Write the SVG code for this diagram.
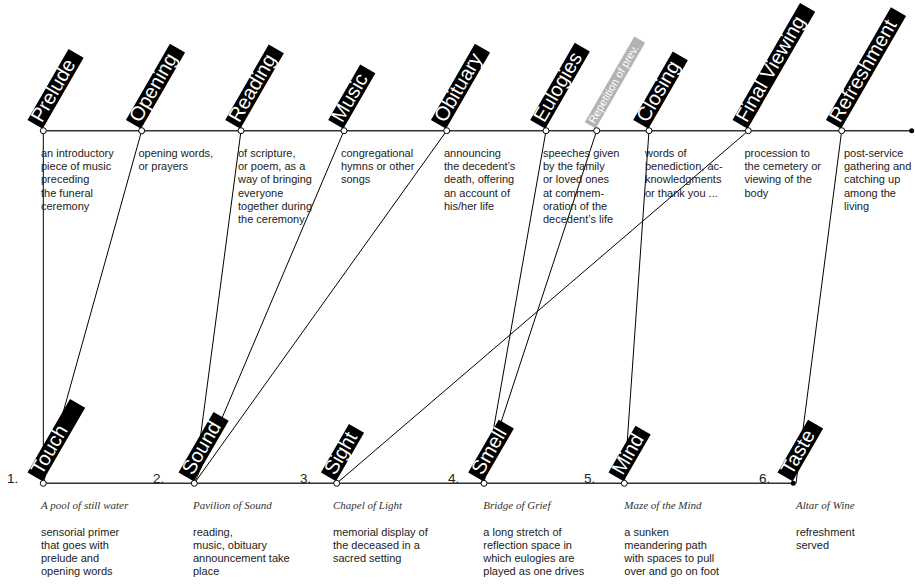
<svg xmlns="http://www.w3.org/2000/svg" width="915" height="584" viewBox="0 0 915 584">
<style>
.lbl rect{fill:#000}
.lbl text{fill:#fff;font-family:"Liberation Sans",Arial,sans-serif;font-size:20px}
.rep rect{fill:#b3b3b3}
.rep text{fill:#fff;font-family:"Liberation Sans",Arial,sans-serif;font-size:11px}
.desc{font-family:"Liberation Sans",Arial,sans-serif;font-size:11px;fill:#222}
.ttl{font-family:"Liberation Serif","Times New Roman",serif;font-style:italic;font-size:11px;fill:#333}
.num{font-family:"Liberation Sans",Arial,sans-serif;font-size:13.5px;fill:#222}
.axis{stroke:#333;stroke-width:1.5;fill:none}
.conn line{stroke:#000;stroke-width:1}
.dot{fill:#fff;stroke:#000;stroke-width:1}
.fdot{fill:#000}
</style>
<g id="timeline">
<line class="axis" x1="43.3" y1="130.7" x2="911.7" y2="130.7"/>
<line class="axis" x1="43.3" y1="483.3" x2="793.3" y2="483.3"/>
<circle class="fdot" cx="911.7" cy="130.7" r="2.5"/>
</g>
<g id="connectors" class="conn">
<line x1="43.3" y1="130.7" x2="43.3" y2="483.3"/>
<line x1="141.7" y1="130.7" x2="43.3" y2="483.3"/>
<line x1="241" y1="130.7" x2="194.3" y2="483.3"/>
<line x1="344" y1="130.7" x2="194.3" y2="483.3"/>
<line x1="446.7" y1="130.7" x2="194.3" y2="483.3"/>
<line x1="546" y1="130.7" x2="484" y2="483.3"/>
<line x1="596.7" y1="130.7" x2="481" y2="483.3"/>
<line x1="649" y1="130.7" x2="624.3" y2="483.3"/>
<line x1="748.3" y1="130.7" x2="336.7" y2="483.3"/>
<line x1="841.7" y1="130.7" x2="796" y2="483.3"/>
</g>
<g id="prelude">
<g class="lbl" transform="translate(41.8,128.2) rotate(-60)"><rect x="0" y="-16.5" width="82" height="17.5"/><text x="4" y="-2.5">Prelude</text></g>
<circle class="dot" cx="43.3" cy="130.7" r="3"/>
<text class="desc" x="41" y="157"><tspan x="41">an introductory</tspan><tspan x="41" dy="13.2">piece of music</tspan><tspan x="41" dy="13.2">preceding</tspan><tspan x="41" dy="13.2">the funeral</tspan><tspan x="41" dy="13.2">ceremony</tspan></text>
</g>
<g id="opening">
<g class="lbl" transform="translate(140.2,128.2) rotate(-60)"><rect x="0" y="-16.5" width="88" height="17.5"/><text x="4" y="-2.5">Opening</text></g>
<circle class="dot" cx="141.7" cy="130.7" r="3"/>
<text class="desc" x="138.5" y="157"><tspan x="138.5">opening words,</tspan><tspan x="138.5" dy="13.2">or prayers</tspan></text>
</g>
<g id="reading">
<g class="lbl" transform="translate(239.5,128.2) rotate(-60)"><rect x="0" y="-16.5" width="87" height="17.5"/><text x="4" y="-2.5">Reading</text></g>
<circle class="dot" cx="241" cy="130.7" r="3"/>
<text class="desc" x="238" y="157"><tspan x="238">of scripture,</tspan><tspan x="238" dy="13.2">or poem, as a</tspan><tspan x="238" dy="13.2">way of bringing</tspan><tspan x="238" dy="13.2">everyone</tspan><tspan x="238" dy="13.2">together during</tspan><tspan x="238" dy="13.2">the ceremony</tspan></text>
</g>
<g id="music">
<g class="lbl" transform="translate(342.5,128.2) rotate(-60)"><rect x="0" y="-16.5" width="64" height="17.5"/><text x="4" y="-2.5">Music</text></g>
<circle class="dot" cx="344" cy="130.7" r="3"/>
<text class="desc" x="341" y="157"><tspan x="341">congregational</tspan><tspan x="341" dy="13.2">hymns or other</tspan><tspan x="341" dy="13.2">songs</tspan></text>
</g>
<g id="obituary">
<g class="lbl" transform="translate(445.2,128.2) rotate(-60)"><rect x="0" y="-16.5" width="88" height="17.5"/><text x="4" y="-2.5">Obituary</text></g>
<circle class="dot" cx="446.7" cy="130.7" r="3"/>
<text class="desc" x="444" y="157"><tspan x="444">announcing</tspan><tspan x="444" dy="13.2">the decedent’s</tspan><tspan x="444" dy="13.2">death, offering</tspan><tspan x="444" dy="13.2">an account of</tspan><tspan x="444" dy="13.2">his/her life</tspan></text>
</g>
<g id="eulogies">
<g class="lbl" transform="translate(544.5,128.2) rotate(-60)"><rect x="0" y="-16.5" width="89" height="17.5"/><text x="4" y="-2.5">Eulogies</text></g>
<circle class="dot" cx="546" cy="130.7" r="3"/>
<text class="desc" x="543" y="157"><tspan x="543">speeches given</tspan><tspan x="543" dy="13.2">by the family</tspan><tspan x="543" dy="13.2">or loved ones</tspan><tspan x="543" dy="13.2">at commem-</tspan><tspan x="543" dy="13.2">oration of the</tspan><tspan x="543" dy="13.2">decedent’s life</tspan></text>
</g>
<g id="repetition">
<g class="rep" transform="translate(595.2,128.2) rotate(-60)"><rect x="0" y="-12" width="99" height="12.5"/><text x="3" y="-2.5">Repetition of prev.</text></g>
<circle class="dot" cx="596.7" cy="130.7" r="3"/>
</g>
<g id="closing">
<g class="lbl" transform="translate(647.5,128.2) rotate(-60)"><rect x="0" y="-16.5" width="79" height="17.5"/><text x="4" y="-2.5">Closing</text></g>
<circle class="dot" cx="649" cy="130.7" r="3"/>
<text class="desc" x="645" y="157"><tspan x="645">words of</tspan><tspan x="645" dy="13.2">benediction, ac-</tspan><tspan x="645" dy="13.2">knowledgments</tspan><tspan x="645" dy="13.2">or thank you ...</tspan></text>
</g>
<g id="final-viewing">
<g class="lbl" transform="translate(746.8,128.2) rotate(-60)"><rect x="0" y="-16.5" width="135" height="17.5"/><text x="4" y="-2.5">Final Viewing</text></g>
<circle class="dot" cx="748.3" cy="130.7" r="3"/>
<text class="desc" x="744.5" y="157"><tspan x="744.5">procession to</tspan><tspan x="744.5" dy="13.2">the cemetery or</tspan><tspan x="744.5" dy="13.2">viewing of the</tspan><tspan x="744.5" dy="13.2">body</tspan></text>
</g>
<g id="refreshment">
<g class="lbl" transform="translate(840.2,128.2) rotate(-60)"><rect x="0" y="-16.5" width="130" height="17.5"/><text x="4" y="-2.5">Refreshment</text></g>
<circle class="dot" cx="841.7" cy="130.7" r="3"/>
<text class="desc" x="844" y="157"><tspan x="844">post-service</tspan><tspan x="844" dy="13.2">gathering and</tspan><tspan x="844" dy="13.2">catching up</tspan><tspan x="844" dy="13.2">among the</tspan><tspan x="844" dy="13.2">living</tspan></text>
</g>
<g id="touch">
<text class="num" x="7" y="483.3">1.</text>
<g class="lbl" transform="translate(41.8,480.8) rotate(-60)"><rect x="0" y="-16.5" width="85" height="17.5"/><text x="4" y="-2.5">Touch</text></g>
<circle class="dot" cx="43.3" cy="483.3" r="3"/>
<text class="ttl" x="41" y="509">A pool of still water</text>
<text class="desc" x="41" y="535.5"><tspan x="41">sensorial primer</tspan><tspan x="41" dy="13.2">that goes with</tspan><tspan x="41" dy="13.2">prelude and</tspan><tspan x="41" dy="13.2">opening words</tspan></text>
</g>
<g id="sound">
<text class="num" x="153" y="483.3">2.</text>
<g class="lbl" transform="translate(192.8,480.8) rotate(-60)"><rect x="0" y="-16.5" width="70" height="17.5"/><text x="4" y="-2.5">Sound</text></g>
<circle class="dot" cx="194.3" cy="483.3" r="3"/>
<text class="ttl" x="193" y="509">Pavilion of Sound</text>
<text class="desc" x="193" y="535.5"><tspan x="193">reading,</tspan><tspan x="193" dy="13.2">music, obituary</tspan><tspan x="193" dy="13.2">announcement take</tspan><tspan x="193" dy="13.2">place</tspan></text>
</g>
<g id="sight">
<text class="num" x="300" y="483.3">3.</text>
<g class="lbl" transform="translate(335.2,480.8) rotate(-60)"><rect x="0" y="-16.5" width="56" height="17.5"/><text x="4" y="-2.5">Sight</text></g>
<circle class="dot" cx="336.7" cy="483.3" r="3"/>
<text class="ttl" x="333" y="509">Chapel of Light</text>
<text class="desc" x="333" y="535.5"><tspan x="333">memorial display of</tspan><tspan x="333" dy="13.2">the deceased in a</tspan><tspan x="333" dy="13.2">sacred setting</tspan></text>
</g>
<g id="smell">
<text class="num" x="448" y="483.3">4.</text>
<g class="lbl" transform="translate(482.5,480.8) rotate(-60)"><rect x="0" y="-16.5" width="61" height="17.5"/><text x="4" y="-2.5">Smell</text></g>
<circle class="dot" cx="484" cy="483.3" r="3"/>
<text class="ttl" x="483.3" y="509">Bridge of Grief</text>
<text class="desc" x="483.3" y="535.5"><tspan x="483.3">a long stretch of</tspan><tspan x="483.3" dy="13.2">reflection space in</tspan><tspan x="483.3" dy="13.2">which eulogies are</tspan><tspan x="483.3" dy="13.2">played as one drives</tspan></text>
</g>
<g id="mind">
<text class="num" x="584" y="483.3">5.</text>
<g class="lbl" transform="translate(622.8,480.8) rotate(-60)"><rect x="0" y="-16.5" width="54" height="17.5"/><text x="4" y="-2.5">Mind</text></g>
<circle class="dot" cx="624.3" cy="483.3" r="3"/>
<text class="ttl" x="624.3" y="509">Maze of the Mind</text>
<text class="desc" x="624.3" y="535.5"><tspan x="624.3">a sunken</tspan><tspan x="624.3" dy="13.2">meandering path</tspan><tspan x="624.3" dy="13.2">with spaces to pull</tspan><tspan x="624.3" dy="13.2">over and go on foot</tspan></text>
</g>
<g id="taste">
<text class="num" x="759" y="483.3">6.</text>
<g class="lbl" transform="translate(791.8,480.8) rotate(-60)"><rect x="0" y="-16.5" width="61" height="17.5"/><text x="4" y="-2.5">Taste</text></g>
<circle class="fdot" cx="793.3" cy="483.3" r="2.5"/>
<text class="ttl" x="796" y="509">Altar of Wine</text>
<text class="desc" x="796" y="535.5"><tspan x="796">refreshment</tspan><tspan x="796" dy="13.2">served</tspan></text>
</g>
</svg>
